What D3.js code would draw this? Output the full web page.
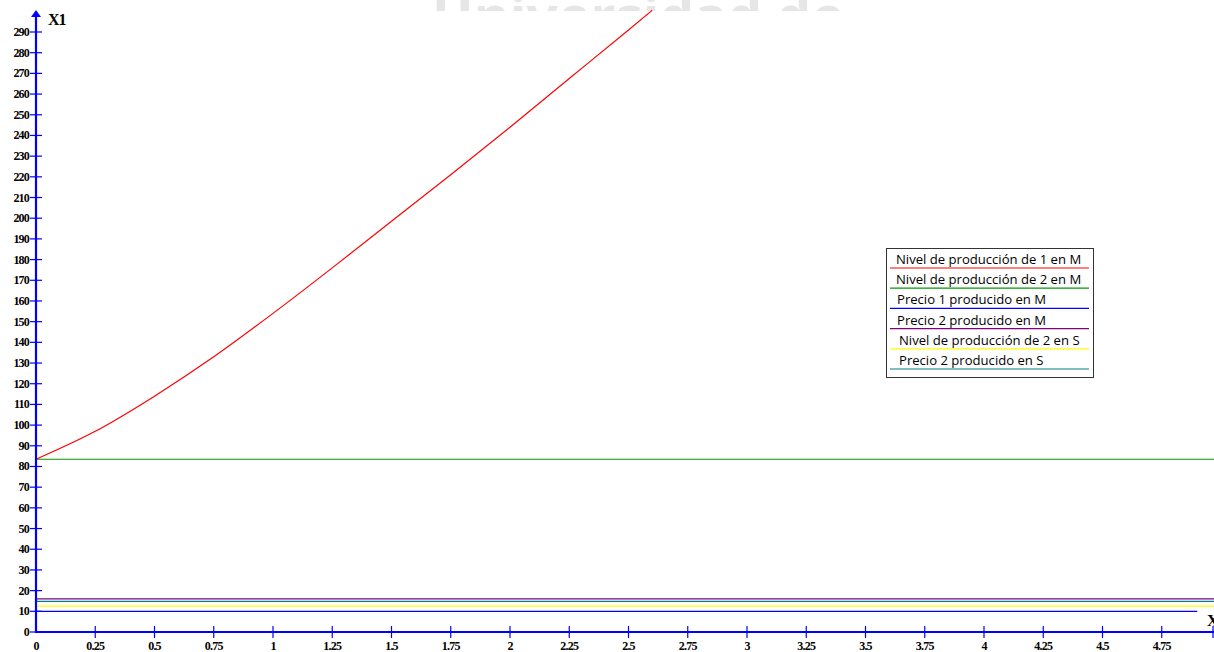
<!DOCTYPE html>
<html><head><meta charset="utf-8">
<script src="https://cdn.jsdelivr.net/npm/d3@7"></script>
<style>body{margin:0;background:#fff}svg{display:block}</style>
</head><body>
<svg id="c" width="1214" height="652"></svg>
<script>
const xTicks = [0,0.25,0.5,0.75,1,1.25,1.5,1.75,2,2.25,2.5,2.75,3,3.25,3.5,3.75,4,4.25,4.5,4.75];
const xTickLabels = ["0","0.25","0.5","0.75","1","1.25","1.5","1.75","2","2.25","2.5","2.75","3","3.25","3.5","3.75","4","4.25","4.5","4.75"];
const yTicks = d3.range(0,300,10);
const redX = [0,0.25,0.5,0.75,1,1.25,1.5,1.75,2,2.25,2.5,2.6];
const redY = [83.5,97,114,133,154,176,198.5,221,244,267.5,291,300.5];
const seriesNames = ["Nivel de producción de 1 en M","Nivel de producción de 2 en M","Precio 1 producido en M","Precio 2 producido en M","Nivel de producción de 2 en S","Precio 2 producido en S"];
const seriesColors = ["#ff0000","#009900","#0000ff","#800080","#ffff00","#008080"];
const flatValues = [null,83.5,10,16,12.5,14.8];
const flatEnd = [null,5.1,4.9,5.1,5.1,5.1];

const svg = d3.select("#c");
const x = d3.scaleLinear().domain([0,1]).range([36,273]);
const y = d3.scaleLinear().domain([0,290]).range([632,32]);

// watermark
const defs = svg.append("defs");
defs.append("clipPath").attr("id","wm").append("rect").attr("x",0).attr("y",0).attr("width",1214).attr("height",11);
svg.append("text").attr("clip-path","url(#wm)").attr("x",638).attr("y",36).attr("text-anchor","middle")
  .attr("font-family","Open Sans").attr("font-weight","bold").attr("font-size",55).attr("fill","#e6e6e6").text("Universidad de");

const plot = svg.append("g");
flatValues.forEach((v,i)=>{
  if(v===null) return;
  plot.append("line").attr("x1",x(0)).attr("x2",x(flatEnd[i])).attr("y1",y(v)).attr("y2",y(v))
    .attr("stroke",seriesColors[i]).attr("stroke-width",1.2);
});
const pts = redX.map((d,i)=>[d,redY[i]]);
plot.append("path").attr("d",d3.line().x(d=>x(d[0])).y(d=>y(d[1])).curve(d3.curveMonotoneX)(pts))
  .attr("fill","none").attr("stroke","#ff0000").attr("stroke-width",1.2);

// axes
const blue = "#0000ff";
svg.append("line").attr("x1",36).attr("x2",36).attr("y1",633).attr("y2",14).attr("stroke",blue).attr("stroke-width",2.2);
svg.append("path").attr("d","M36,10 L31,17 L41,17 Z").attr("fill",blue);
svg.append("line").attr("x1",35).attr("x2",1214).attr("y1",632).attr("y2",632).attr("stroke",blue).attr("stroke-width",2.2);

const tickFont = "Liberation Serif";
yTicks.forEach(t=>{
  svg.append("line").attr("x1",30).attr("x2",42).attr("y1",y(t)).attr("y2",y(t)).attr("stroke",blue).attr("stroke-width",1.2);
  svg.append("text").attr("x",29).attr("y",y(t)+4).attr("text-anchor","end").attr("font-family",tickFont)
    .attr("font-weight","bold").attr("font-size",12).attr("letter-spacing",-0.8).attr("fill","#000").text(t);
});
xTicks.forEach((t,i)=>{
  if(i>0) svg.append("line").attr("x1",x(t)).attr("x2",x(t)).attr("y1",626).attr("y2",638).attr("stroke",blue).attr("stroke-width",1.2);
  svg.append("text").attr("x",x(t)).attr("y",650).attr("text-anchor","middle").attr("font-family",tickFont)
    .attr("font-weight","bold").attr("font-size",12).attr("letter-spacing",-0.8).attr("fill","#000").text(xTickLabels[i]);
});
svg.append("line").attr("x1",1213).attr("x2",1213).attr("y1",626).attr("y2",638).attr("stroke",blue).attr("stroke-width",1.2);
svg.append("text").attr("x",48).attr("y",25).attr("font-family",tickFont).attr("font-weight","bold").attr("font-size",16).attr("letter-spacing",-1).text("X1");
svg.append("text").attr("x",1207).attr("y",626).attr("font-family",tickFont).attr("font-weight","bold").attr("font-size",16).attr("letter-spacing",-1).text("X2");

// legend
const lg = svg.append("g");
lg.append("rect").attr("x",886.5).attr("y",248.5).attr("width",207).attr("height",129).attr("fill","#fff").attr("stroke","#333").attr("stroke-width",1);
const textX = [896,896,897,897,899,899];
seriesNames.forEach((n,i)=>{
  const base = 264 + i*20.2;
  lg.append("text").attr("x",textX[i]).attr("y",base).attr("font-family","Open Sans").attr("font-size",13.1).attr("fill","#000").text(n);
  lg.append("line").attr("x1",890).attr("x2",1089).attr("y1",base+4).attr("y2",base+4).attr("stroke",seriesColors[i]).attr("stroke-width",1.2);
});
</script>
</body></html>
